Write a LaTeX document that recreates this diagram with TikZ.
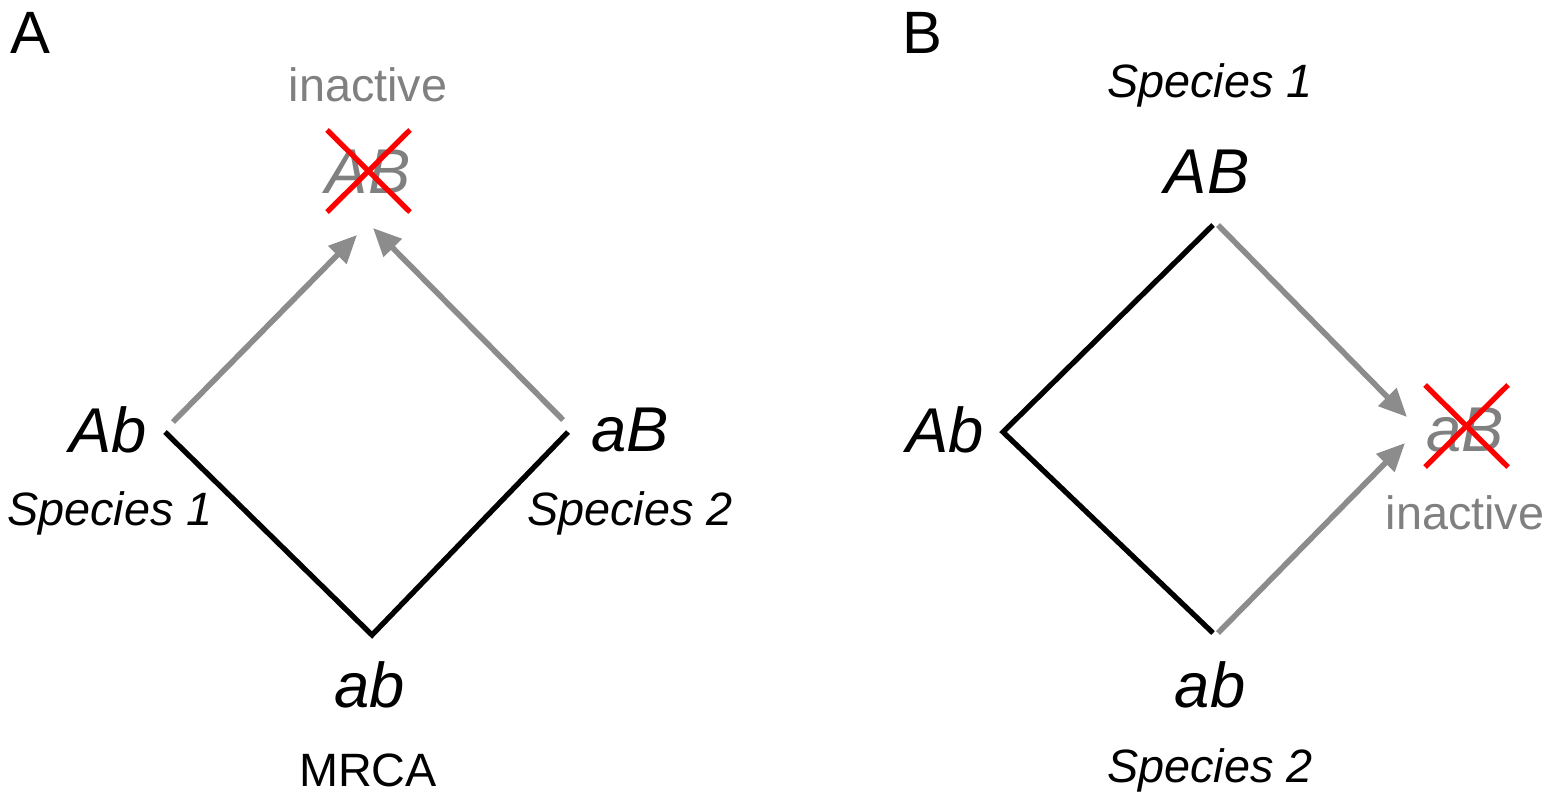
\documentclass[tikz,border=0pt]{standalone}
\usepackage{fontspec}
\setmainfont{Liberation Sans}
\usetikzlibrary{arrows,arrows.meta}
\usetikzlibrary{shapes}

\begin{document}
\begin{tikzpicture}[x=0.01cm, y=-0.01cm, >=stealth,
  geno/.style={font=\fontsize{18}{20}\selectfont\itshape},
  lbl/.style={font=\fontsize{13.3}{15}\selectfont},
  branch/.style={line width=1.5pt, black},
  path/.style={-{Triangle[length=8pt,width=7pt]}, line width=1.6pt, gray!90},
  cross/.style={line width=1.5pt, red}]

\useasboundingbox (0,0) rectangle (1552,800);

% Panel A
\node (pa) [font=\fontsize{17}{19}\selectfont] at (30,33) {A};
\node (inA) [lbl, text=gray] at (368,85) {inactive};
\node (ABa) [geno, text=gray] at (368,172) {AB};
\node (Aba) [geno] at (108,430) {Ab};
\node (sp1a) [lbl, font=\fontsize{13.3}{15}\selectfont\itshape] at (110,513) {Species 1};
\node (aBa) [geno] at (630,430) {aB};
\node (sp2a) [lbl, font=\fontsize{13.3}{15}\selectfont\itshape] at (630,513) {Species 2};
\node (aba) [geno] at (370,685) {ab};
\node (mrca) [lbl] at (368,770) {MRCA};

\coordinate (la) at (165,432);
\coordinate (ra) at (568,432);
\coordinate (ba) at (372,635);
\coordinate (la2) at (173,422);
\coordinate (ra2) at (563,420);
\coordinate (ta1) at (357,235);
\coordinate (ta2) at (373,228);

\draw[branch] (la) -- (ba) -- (ra);
\draw[path] (la2) -- (ta1);
\draw[path] (ra2) -- (ta2);
\draw[cross] (327,130) -- (410,212);
\draw[cross] (327,212) -- (410,130);

% Panel B
\node (pb) [font=\fontsize{17}{19}\selectfont] at (922,33) {B};
\node (sp1b) [lbl, font=\fontsize{13.3}{15}\selectfont\itshape] at (1210,85) {Species 1};
\node (ABb) [geno] at (1207,172) {AB};
\node (Abb) [geno] at (945,430) {Ab};
\node (aBb) [geno, text=gray] at (1465,430) {aB};
\node (inB) [lbl, text=gray] at (1465,513) {inactive};
\node (abb) [geno] at (1210,685) {ab};
\node (sp2b) [lbl, font=\fontsize{13.3}{15}\selectfont\itshape] at (1210,770) {Species 2};

\coordinate (tb) at (1213,225);
\coordinate (lb) at (1003,432);
\coordinate (bb) at (1213,633);
\coordinate (tb2) at (1218,225);
\coordinate (bb2) at (1218,633);
\coordinate (rb1) at (1407,417);
\coordinate (rb2) at (1405,443);

\draw[branch] (tb) -- (lb) -- (bb);
\draw[path] (tb2) -- (rb1);
\draw[path] (bb2) -- (rb2);
\draw[cross] (1425,385) -- (1508,467);
\draw[cross] (1425,467) -- (1508,385);

\end{tikzpicture}
\end{document}
